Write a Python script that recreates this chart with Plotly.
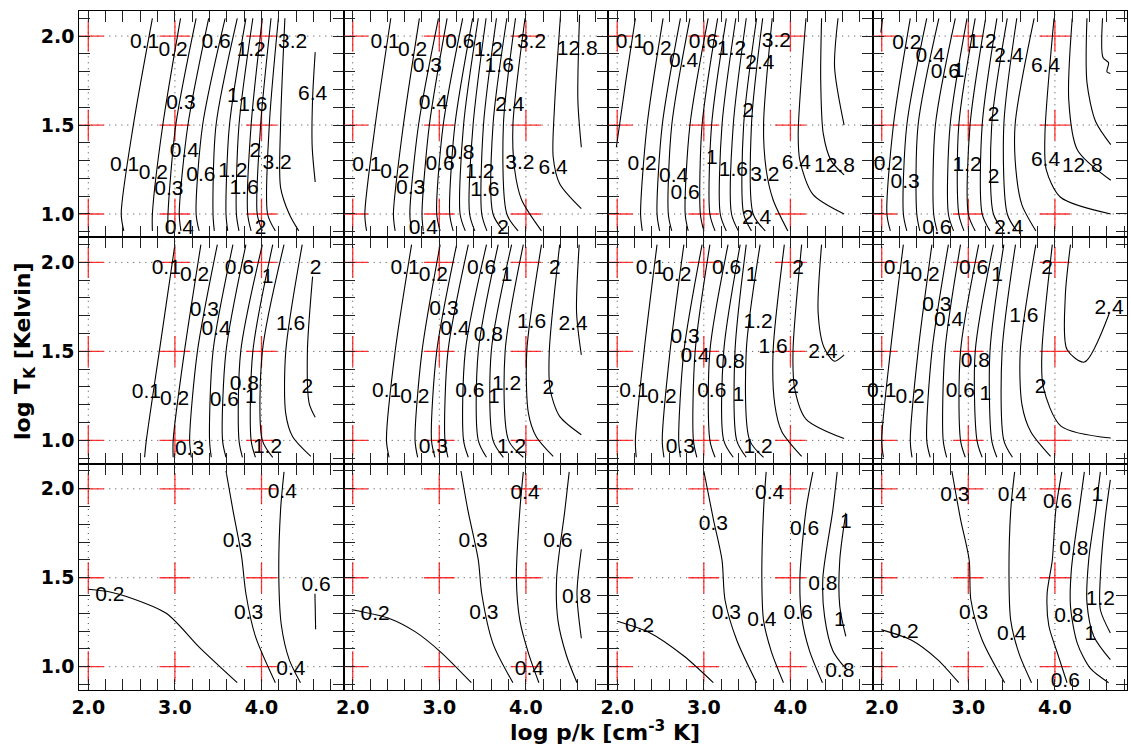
import plotly.graph_objects as go

# ---------------- data ----------------
YS4 = [2.10, 1.50, 1.00, 0.905]          # y levels where line positions were read

GRID_X = [2.0, 3.0, 4.0]
GRID_Y = [1.0, 1.5, 2.0]
XTICKS = [2.0, 2.2, 2.4, 2.6, 2.8, 3.0, 3.2, 3.4, 3.6, 3.8, 4.0, 4.2, 4.4, 4.6, 4.8]
XTICK_TEXT = ["2.0", "", "", "", "", "3.0", "", "", "", "", "4.0", "", "", "", ""]
YTICKS = [0.9, 1.0, 1.1, 1.2, 1.3, 1.4, 1.5, 1.6, 1.7, 1.8, 1.9, 2.0, 2.1]
YTICK_TEXT = ["", "1.0", "", "", "", "", "1.5", "", "", "", "", "2.0", ""]

# panel 1 (top row, col 1)
P1_LINES = [
    (0.1, [2.74, 2.52, 2.38, 2.41], YS4),
    (0.2, [3.065, 2.86, 2.74, 2.74], YS4),
    (0.3, [3.245, 3.01, 2.92, 2.92], YS4),
    (0.4, [3.39, 3.15, 3.05, 3.07], YS4),
    (0.6, [3.58, 3.32, 3.245, 3.28], YS4),
    (0.8, [3.72, 3.475, 3.44, 3.455], YS4),
    (1.0, [3.82, 3.63, 3.59, 3.61], YS4),
    (1.2, [3.90, 3.74, 3.71, 3.74], YS4),
    (1.6, [4.01, 3.88, 3.84, 3.88], YS4),
    (2.0, [4.11, 3.99, 3.95, 4.01], YS4),
    (2.4, [4.195, 4.09, 4.07, 4.16], YS4),
    (3.2, [4.27, 4.22, 4.22, 4.32, 4.43], [2.10, 1.50, 1.15, 1.00, 0.905]),
    (6.4, [4.62, 4.59, 4.585, 4.62], [1.91, 1.65, 1.38, 1.18]),
]
P1_LABELS = [
    ("0.1", 2.65, 1.96), ("0.2", 2.98, 1.92), ("0.6", 3.475, 1.96), ("1.2", 3.88, 1.92),
    ("3.2", 4.36, 1.96), ("0.3", 3.07, 1.62), ("1", 3.67, 1.66), ("1.6", 3.90, 1.61),
    ("6.4", 4.59, 1.67), ("0.4", 3.11, 1.35), ("2", 3.93, 1.35), ("0.1", 2.42, 1.27),
    ("0.2", 2.75, 1.225), ("0.6", 3.30, 1.215), ("1.2", 3.67, 1.235), ("3.2", 4.18, 1.28),
    ("0.3", 2.93, 1.135), ("1.6", 3.80, 1.14), ("0.4", 3.05, 0.915), ("2", 3.99, 0.915),
]

# panel 2 (top row, col 2)
P2_LINES = [
    (0.1, [2.44, 2.26, 2.14, 2.16], YS4),
    (0.2, [2.77, 2.585, 2.47, 2.49], YS4),
    (0.3, [2.99, 2.76, 2.66, 2.68], YS4),
    (0.4, [3.09, 2.885, 2.80, 2.815], YS4),
    (0.6, [3.27, 3.045, 2.97, 3.01], YS4),
    (0.8, [3.385, 3.18, 3.12, 3.16], YS4),
    (1.0, [3.45, 3.28, 3.24, 3.30], YS4),
    (1.2, [3.54, 3.39, 3.35, 3.41], YS4),
    (1.6, [3.66, 3.51, 3.49, 3.55], YS4),
    (2.0, [3.78, 3.62, 3.62, 3.74], YS4),
    (2.4, [3.88, 3.74, 3.78, 3.91], YS4),
    (3.2, [3.99, 3.85, 3.87, 3.95, 4.18], [2.10, 1.50, 1.25, 1.08, 0.905]),
    (6.4, [4.40, 4.33, 4.315, 4.39, 4.64], [2.12, 1.60, 1.32, 1.17, 1.03]),
    (12.8, [4.62, 4.60, 4.64], [2.12, 1.64, 1.375]),
]
P2_LABELS = [
    ("0.1", 2.373, 1.961), ("0.2", 2.692, 1.919), ("0.3", 2.862, 1.829), ("0.6", 3.238, 1.961),
    ("1.2", 3.565, 1.919), ("1.6", 3.692, 1.829), ("3.2", 4.065, 1.961), ("12.8", 4.592, 1.923),
    ("0.4", 2.931, 1.619), ("2.4", 3.815, 1.61), ("0.1", 2.162, 1.272), ("0.2", 2.488, 1.234),
    ("0.3", 2.669, 1.141), ("0.8", 3.238, 1.338), ("0.6", 3.008, 1.278), ("1.2", 3.469, 1.234),
    ("1.6", 3.527, 1.131), ("3.2", 3.931, 1.285), ("6.4", 4.315, 1.253), ("0.4", 2.815, 0.916),
    ("2", 3.738, 0.916),
]

# panel 3 (top row, col 3)
P3_LINES = [
    (0.1, [2.21, 2.10, 1.99], [2.10, 1.75, 1.375]),
    (0.2, [2.53, 2.345, 2.27, 2.29], YS4),
    (0.3, [2.73, 2.52, 2.46, 2.49], YS4),
    (0.4, [2.84, 2.63, 2.59, 2.63], YS4),
    (0.6, [3.05, 2.84, 2.785, 2.82], YS4),
    (0.8, [3.16, 2.98, 2.96, 3.00], YS4),
    (1.0, [3.26, 3.09, 3.07, 3.13], YS4),
    (1.2, [3.37, 3.21, 3.19, 3.26], YS4),
    (1.6, [3.49, 3.34, 3.32, 3.40], YS4),
    (2.0, [3.61, 3.46, 3.46, 3.55], YS4),
    (2.4, [3.68, 3.55, 3.57, 3.71], YS4),
    (3.2, [3.79, 3.69, 3.72, 3.80, 3.97], [2.10, 1.50, 1.25, 1.08, 0.905]),
    (6.4, [4.18, 4.09, 4.11, 4.26, 4.62], [2.10, 1.45, 1.30, 1.11, 1.00]),
    (12.8, [4.36, 4.35, 4.38, 4.47, 4.62], [2.10, 1.75, 1.45, 1.30, 1.22]),
    (25.6, [4.55, 4.51, 4.62], [2.10, 1.825, 1.50]),
]
P3_LABELS = [
    ("0.1", 2.153, 1.961), ("0.2", 2.46, 1.923), ("0.4", 2.766, 1.854), ("0.6", 2.996, 1.961),
    ("1.2", 3.322, 1.923), ("2.4", 3.648, 1.844), ("3.2", 3.839, 1.966), ("2", 3.513, 1.572),
    ("0.2", 2.287, 1.276), ("0.4", 2.651, 1.21), ("0.6", 2.785, 1.116), ("1", 3.092, 1.31),
    ("1.6", 3.341, 1.244), ("3.2", 3.705, 1.216), ("6.4", 4.069, 1.285), ("12.8", 4.51, 1.263),
    ("2.4", 3.609, 0.972),
]

# panel 4 (top row, col 4)
P4_LINES = [
    (0.1, [2.01, 1.99], [2.10, 2.02]),
    (0.2, [2.33, 2.135, 2.06, 2.10], YS4),
    (0.3, [2.52, 2.29, 2.25, 2.29], YS4),
    (0.4, [2.66, 2.42, 2.405, 2.44], YS4),
    (0.6, [2.85, 2.62, 2.60, 2.64], YS4),
    (0.8, [2.985, 2.79, 2.77, 2.83], YS4),
    (1.0, [3.08, 2.89, 2.89, 2.95], YS4),
    (1.2, [3.20, 3.02, 3.00, 3.08], YS4),
    (1.6, [3.33, 3.16, 3.16, 3.25], YS4),
    (2.0, [3.45, 3.27, 3.29, 3.41], YS4),
    (2.4, [3.56, 3.41, 3.45, 3.56], YS4),
    (3.2, [3.76, 3.54, 3.56, 3.62, 3.78], [2.10, 1.50, 1.20, 1.05, 0.905]),
    (6.4, [3.99, 3.885, 3.90, 4.065, 4.645], [2.10, 1.45, 1.25, 1.094, 1.00]),
    (12.8, [4.20, 4.16, 4.26, 4.645], [2.10, 1.64, 1.36, 1.19]),
    (25.6, [4.37, 4.37, 4.47, 4.645], [2.10, 1.74, 1.52, 1.39]),
    (51.2, [4.55, 4.555, 4.62, 4.60, 4.64], [2.10, 1.88, 1.85, 1.80, 1.79]),
]
P4_LABELS = [
    ("0.2", 2.29, 1.957), ("0.4", 2.56, 1.882), ("0.6", 2.734, 1.792), ("1", 2.888, 1.797),
    ("1.2", 3.158, 1.961), ("2.4", 3.467, 1.882), ("6.4", 3.892, 1.826), ("2", 3.293, 1.553),
    ("0.2", 2.077, 1.276), ("0.3", 2.27, 1.178), ("1.2", 2.985, 1.272), ("2", 3.293, 1.206),
    ("6.4", 3.892, 1.30), ("12.8", 4.317, 1.263), ("0.6", 2.637, 0.916), ("2.4", 3.467, 0.916),
]

# panel 5 (middle row, col 1)
P5_LINES = [
    (0.1, [3.00, 2.82, 2.67, 2.65], YS4),
    (0.2, [3.30, 3.11, 2.98, 2.98], YS4),
    (0.3, [3.49, 3.26, 3.17, 3.19], YS4),
    (0.4, [3.67, 3.44, 3.40, 3.42], YS4),
    (0.6, [3.82, 3.59, 3.55, 3.59], YS4),
    (0.8, [4.01, 3.76, 3.74, 3.78], YS4),
    (1.0, [4.13, 3.90, 3.88, 3.93], YS4),
    (1.2, [4.26, 4.01, 4.01, 4.13], YS4),
    (1.6, [4.47, 4.28, 4.28, 4.36, 4.57], [2.10, 1.50, 1.15, 1.02, 0.91]),
    (2.0, [4.59, 4.53, 4.55, 4.62], [1.92, 1.50, 1.21, 1.13]),
]
P5_LABELS = [
    ("0.1", 2.90, 1.962), ("0.2", 3.226, 1.925), ("0.6", 3.743, 1.962), ("1", 4.069, 1.915),
    ("2", 4.625, 1.962), ("0.3", 3.341, 1.727), ("0.4", 3.475, 1.624), ("1.6", 4.337, 1.652),
    ("0.1", 2.67, 1.267), ("0.2", 2.996, 1.229), ("0.8", 3.801, 1.314), ("0.6", 3.571, 1.22),
    ("1", 3.877, 1.239), ("2", 4.529, 1.295), ("0.3", 3.169, 0.947), ("1.2", 4.069, 0.957),
]

# panel 6 (middle row, col 2)
P6_LINES = [
    (0.1, [2.68, 2.49, 2.39, 2.42], YS4),
    (0.2, [3.01, 2.80, 2.72, 2.75], YS4),
    (0.3, [3.20, 2.97, 2.91, 2.95], YS4),
    (0.4, [3.335, 3.10, 3.065, 3.10], YS4),
    (0.6, [3.545, 3.30, 3.28, 3.335], YS4),
    (0.8, [3.68, 3.45, 3.45, 3.545], YS4),
    (1.0, [3.835, 3.60, 3.62, 3.74], YS4),
    (1.2, [3.97, 3.76, 3.80, 3.97], YS4),
    (1.6, [4.18, 4.01, 4.03, 4.12, 4.315], [2.10, 1.50, 1.15, 1.02, 0.91]),
    (2.0, [4.39, 4.27, 4.28, 4.39, 4.64], [2.10, 1.50, 1.286, 1.135, 1.032]),
    (2.4, [4.615, 4.585, 4.64], [2.10, 1.72, 1.48]),
]
P6_LABELS = [
    ("0.1", 2.604, 1.966), ("0.2", 2.931, 1.925), ("0.6", 3.488, 1.962), ("1", 3.777, 1.925),
    ("2", 4.335, 1.966), ("0.3", 3.054, 1.733), ("0.4", 3.181, 1.624), ("0.8", 3.565, 1.586),
    ("1.6", 4.065, 1.662), ("2.4", 4.546, 1.647), ("0.1", 2.392, 1.271), ("0.2", 2.719, 1.239),
    ("0.6", 3.354, 1.271), ("1", 3.631, 1.239), ("1.2", 3.777, 1.314), ("2", 4.258, 1.289),
    ("0.3", 2.931, 0.957), ("1.2", 3.835, 0.957),
]

# panel 7 (middle row, col 3)
P7_LINES = [
    (0.1, [2.46, 2.31, 2.21, 2.22], YS4),
    (0.2, [2.77, 2.61, 2.52, 2.54], YS4),
    (0.3, [2.98, 2.77, 2.71, 2.73], YS4),
    (0.4, [3.07, 2.90, 2.88, 2.92], YS4),
    (0.6, [3.28, 3.07, 3.07, 3.13], YS4),
    (0.8, [3.42, 3.23, 3.23, 3.34], YS4),
    (1.0, [3.49, 3.36, 3.38, 3.49], YS4),
    (1.2, [3.65, 3.49, 3.53, 3.69], YS4),
    (1.6, [3.93, 3.80, 3.82, 3.90, 4.13], [2.10, 1.50, 1.20, 1.05, 0.91]),
    (2.0, [4.13, 4.03, 4.05, 4.18, 4.62], [2.10, 1.50, 1.29, 1.12, 1.01]),
    (2.4, [4.36, 4.32, 4.39, 4.51, 4.62], [2.10, 1.72, 1.52, 1.445, 1.48]),
]
P7_LABELS = [
    ("0.1", 2.383, 1.966), ("0.2", 2.69, 1.925), ("0.6", 3.264, 1.962), ("1", 3.552, 1.925),
    ("2", 4.088, 1.966), ("1.2", 3.628, 1.662), ("0.3", 2.785, 1.577), ("0.4", 2.90, 1.47),
    ("0.8", 3.303, 1.436), ("1.6", 3.801, 1.521), ("2.4", 4.375, 1.492), ("0.1", 2.192, 1.276),
    ("0.2", 2.517, 1.239), ("0.6", 3.092, 1.271), ("1", 3.398, 1.248), ("2", 4.031, 1.295),
    ("0.3", 2.728, 0.957), ("1.2", 3.628, 0.957),
]

# panel 8 (middle row, col 4)
P8_LINES = [
    (0.1, [2.25, 2.10, 2.00, 2.02], YS4),
    (0.2, [2.58, 2.42, 2.33, 2.35], YS4),
    (0.3, [2.77, 2.58, 2.52, 2.56], YS4),
    (0.4, [2.91, 2.73, 2.71, 2.75], YS4),
    (0.6, [3.12, 2.91, 2.91, 2.965], YS4),
    (0.8, [3.29, 3.08, 3.10, 3.16], YS4),
    (1.0, [3.41, 3.25, 3.27, 3.33], YS4),
    (1.2, [3.545, 3.39, 3.41, 3.51], YS4),
    (1.6, [3.78, 3.60, 3.62, 3.72, 3.95], [2.10, 1.50, 1.20, 1.05, 0.91]),
    (2.0, [3.97, 3.85, 3.865, 4.07, 4.645], [2.10, 1.50, 1.30, 1.08, 1.013]),
    (2.4, [4.18, 4.12, 4.14, 4.34, 4.625], [2.10, 1.81, 1.51, 1.44, 1.71]),
]
P8_LABELS = [
    ("0.1", 2.193, 1.966), ("0.2", 2.502, 1.925), ("0.6", 3.062, 1.962), ("1", 3.332, 1.925),
    ("2", 3.911, 1.966), ("0.3", 2.637, 1.759), ("0.4", 2.772, 1.671), ("1.6", 3.641, 1.695),
    ("2.4", 4.625, 1.737), ("0.8", 3.081, 1.44), ("0.1", 2.0, 1.271), ("0.2", 2.328, 1.239),
    ("0.6", 2.907, 1.276), ("1", 3.197, 1.258), ("2", 3.834, 1.295),
]

# panel 9 (bottom row, col 1)
P9_LINES = [
    (0.2, [2.00, 2.25, 2.44, 2.90, 3.28, 3.72], [1.435, 1.42, 1.395, 1.30, 1.11, 0.91]),
    (0.3, [3.59, 3.67, 3.77, 3.82, 3.93, 4.16], [2.10, 1.88, 1.62, 1.41, 1.17, 0.91]),
    (0.4, [4.26, 4.22, 4.20, 4.23, 4.32, 4.45], [2.095, 1.88, 1.50, 1.23, 1.04, 0.91]),
    (0.6, [4.617, 4.625], [1.41, 1.21]),
]
P9_LABELS = [
    ("0.2", 2.25, 1.40), ("0.3", 3.72, 1.705), ("0.3", 3.85, 1.30), ("0.4", 4.24, 1.98),
    ("0.4", 4.34, 0.985), ("0.6", 4.63, 1.455),
]

# panel 10 (bottom row, col 2)
P10_LINES = [
    (0.2, [1.99, 2.43, 2.72, 3.01, 3.37], [1.32, 1.27, 1.197, 1.085, 0.91]),
    (0.3, [3.25, 3.33, 3.45, 3.49, 3.62, 3.85], [2.10, 1.88, 1.60, 1.41, 1.13, 0.91]),
    (0.4, [3.97, 3.93, 3.89, 3.93, 4.03, 4.15], [2.095, 1.88, 1.50, 1.26, 1.075, 0.91]),
    (0.6, [4.50, 4.45, 4.355, 4.37, 4.47, 4.59], [2.095, 1.88, 1.50, 1.26, 1.06, 0.91]),
    (0.8, [4.64, 4.59, 4.64], [1.66, 1.41, 1.16]),
]
P10_LABELS = [
    ("0.2", 2.26, 1.29), ("0.3", 3.39, 1.705), ("0.3", 3.515, 1.30), ("0.4", 3.99, 1.97),
    ("0.4", 4.04, 0.985), ("0.6", 4.37, 1.70), ("0.8", 4.585, 1.385),
]

# panel 11 (bottom row, col 3)
P11_LINES = [
    (0.2, [2.00, 2.38, 2.77, 3.11], [1.255, 1.19, 1.06, 0.91]),
    (0.3, [3.00, 3.11, 3.21, 3.245, 3.38, 3.61], [2.10, 1.83, 1.60, 1.375, 1.15, 0.91]),
    (0.4, [3.72, 3.69, 3.67, 3.69, 3.78, 3.92], [2.095, 1.88, 1.50, 1.26, 1.085, 0.91]),
    (0.6, [4.26, 4.18, 4.11, 4.13, 4.22, 4.37], [2.095, 1.88, 1.50, 1.28, 1.09, 0.91]),
    (0.8, [4.54, 4.49, 4.375, 4.395, 4.49, 4.62], [2.095, 1.88, 1.50, 1.28, 1.09, 1.00]),
    (1.0, [4.64, 4.57, 4.57, 4.64], [1.865, 1.60, 1.34, 1.17]),
]
P11_LABELS = [
    ("0.2", 2.26, 1.225), ("0.3", 3.11, 1.80), ("0.3", 3.26, 1.30), ("0.4", 3.76, 1.97),
    ("0.4", 3.67, 1.26), ("0.6", 4.165, 1.77), ("0.6", 4.09, 1.30), ("0.8", 4.375, 1.46),
    ("0.8", 4.57, 0.97), ("1", 4.64, 1.81), ("1", 4.57, 1.26),
]

# panel 12 (bottom row, col 4)
P12_LINES = [
    (0.2, [2.00, 2.34, 2.645, 2.89], [1.207, 1.15, 1.04, 0.91]),
    (0.3, [2.81, 2.91, 3.01, 3.03, 3.16, 3.42], [2.10, 1.83, 1.60, 1.375, 1.15, 0.91]),
    (0.4, [3.535, 3.49, 3.47, 3.49, 3.585, 3.73], [2.095, 1.88, 1.50, 1.26, 1.075, 0.91]),
    (0.6, [4.08, 4.01, 3.97, 3.91, 3.93, 4.03, 4.14], [2.095, 1.88, 1.60, 1.41, 1.23, 1.075, 0.91]),
    (0.8, [4.34, 4.28, 4.19, 4.18, 4.26, 4.41, 4.62], [2.095, 1.88, 1.545, 1.34, 1.13, 0.99, 0.91]),
    (1.0, [4.525, 4.47, 4.39, 4.37, 4.45, 4.64], [2.095, 1.88, 1.60, 1.36, 1.17, 1.04]),
    (1.2, [4.64, 4.58, 4.525, 4.525, 4.64], [2.05, 1.83, 1.51, 1.32, 1.19]),
]
P12_LABELS = [
    ("0.2", 2.26, 1.19), ("0.3", 2.845, 1.96), ("0.3", 3.06, 1.30), ("0.4", 3.51, 1.96),
    ("0.4", 3.50, 1.18), ("0.6", 4.03, 1.92), ("0.6", 4.12, 0.915), ("0.8", 4.22, 1.655),
    ("0.8", 4.16, 1.28), ("1", 4.49, 1.96), ("1", 4.41, 1.18), ("1.2", 4.525, 1.375),
]

PANEL_LINES = [P1_LINES, P2_LINES, P3_LINES, P4_LINES, P5_LINES, P6_LINES,
               P7_LINES, P8_LINES, P9_LINES, P10_LINES, P11_LINES, P12_LINES]
PANEL_LABELS = [P1_LABELS, P2_LABELS, P3_LABELS, P4_LABELS, P5_LABELS, P6_LABELS,
                P7_LABELS, P8_LABELS, P9_LABELS, P10_LABELS, P11_LABELS, P12_LABELS]

# ---------------- layout geometry ----------------
W, H = 1131, 749
ML, MR, MT, MB = 79, 4, 11, 59
PW, PH = W - ML - MR, H - MT - MB
COL_PX = [79.3, 343.7, 608.2, 872.7, 1127.0]
ROW_PX = [11.0, 237.3, 463.7, 690.0]
X_UNIT = 86.6           # pixels per x unit
X0 = 1.896
Y_RANGE = [0.869, 2.141]

TICK_FONT = dict(family="DejaVu Sans", size=19, color="black", weight="bold")
LABEL_FONT = dict(family="Liberation Sans, Arial, sans-serif", size=21, color="black")

fig = go.Figure()

for k in range(12):
    r, c = divmod(k, 4)
    sfx = "" if k == 0 else str(k + 1)
    xa, ya = "x" + sfx, "y" + sfx
    x1 = X0 + (COL_PX[c + 1] - COL_PX[c]) / X_UNIT
    xr = [X0, x1]

    # dotted grid
    gx, gy = [], []
    for g in GRID_X:
        gx += [g, g, None]
        gy += [Y_RANGE[0], Y_RANGE[1], None]
    for g in GRID_Y:
        gx += [xr[0], xr[1], None]
        gy += [g, g, None]
    fig.add_trace(go.Scatter(x=gx, y=gy, xaxis=xa, yaxis=ya, mode="lines",
                             line=dict(color="#444", width=1, dash="1px,5px"),
                             hoverinfo="skip", showlegend=False))

    # red crosses
    cx = [g for g in GRID_X for _ in GRID_Y]
    cy = [h for _ in GRID_X for h in GRID_Y]
    fig.add_trace(go.Scatter(x=cx, y=cy, xaxis=xa, yaxis=ya, mode="markers",
                             marker=dict(symbol="cross-thin", size=22,
                                         line=dict(color="rgba(255,0,0,0.8)", width=1.3)),
                             hoverinfo="skip", showlegend=False))

    # contour lines
    lx, ly = [], []
    for lev, xs, ys in PANEL_LINES[k]:
        lx += list(xs) + [None]
        ly += list(ys) + [None]
    fig.add_trace(go.Scatter(x=lx, y=ly, xaxis=xa, yaxis=ya, mode="lines",
                             line=dict(color="black", width=1.1, shape="spline", smoothing=0.8),
                             hoverinfo="skip", showlegend=False))

    # contour labels
    labs = PANEL_LABELS[k]
    fig.add_trace(go.Scatter(x=[l[1] for l in labs], y=[l[2] for l in labs],
                             text=[l[0] for l in labs], xaxis=xa, yaxis=ya,
                             mode="text", textfont=LABEL_FONT, textposition="middle center",
                             cliponaxis=False, hoverinfo="skip", showlegend=False))

    xdom = [(COL_PX[c] - ML) / PW, min(1.0, (COL_PX[c + 1] - ML) / PW)]
    ydom = [(H - MB - ROW_PX[r + 1]) / PH, (H - MB - ROW_PX[r]) / PH]
    common = dict(showline=True, linecolor="black", linewidth=1, mirror="allticks",
                  ticks="inside", ticklen=11, tickwidth=1, tickcolor="#222",
                  showgrid=False, zeroline=False, tickmode="array", tickfont=TICK_FONT)
    fig.layout["xaxis" + sfx] = dict(common, domain=xdom, range=xr, anchor=ya,
                                     tickvals=XTICKS, ticktext=XTICK_TEXT,
                                     showticklabels=(r == 2))
    fig.layout["yaxis" + sfx] = dict(common, domain=ydom, range=Y_RANGE, anchor=xa,
                                     tickvals=YTICKS, ticktext=YTICK_TEXT,
                                     showticklabels=(c == 0))

fig.add_annotation(text="log T<sub>K</sub> [Kelvin]", xref="paper", yref="paper",
                   x=(24 - ML) / PW, y=(H - MB - 352) / PH, textangle=-90,
                   showarrow=False, xanchor="center", yanchor="middle",
                   font=dict(family="DejaVu Sans", size=22, color="black", weight="bold"))
fig.add_annotation(text="log p/k [cm<sup>-3</sup> K]", xref="paper", yref="paper",
                   x=(605 - ML) / PW, y=(H - MB - 731) / PH,
                   showarrow=False, xanchor="center", yanchor="middle",
                   font=dict(family="DejaVu Sans", size=22, color="black", weight="bold"))

fig.update_layout(width=W, height=H, margin=dict(l=ML, r=MR, t=MT, b=MB, pad=0),
                  paper_bgcolor="white", plot_bgcolor="white", hovermode=False,
                  showlegend=False)

fig.write_html("out.html")
